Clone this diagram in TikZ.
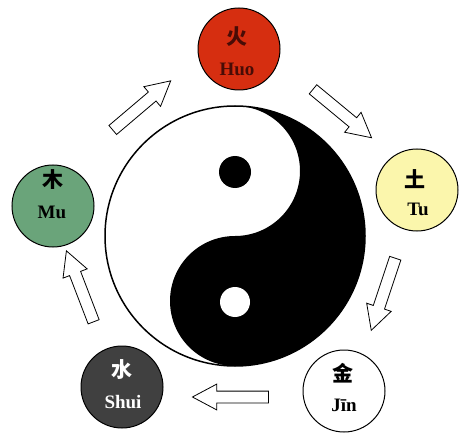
\documentclass[tikz,border=0pt]{standalone}
\usepackage{fontspec}
\setmainfont{Liberation Serif}
\newfontfamily\cjk{Noto Sans CJK SC}
\usetikzlibrary{shapes.arrows}
\definecolor{huored}{RGB}{214,46,16}
\definecolor{huotext}{RGB}{72,12,6}
\definecolor{tuyellow}{RGB}{251,246,172}
\definecolor{shuigray}{RGB}{64,64,64}
\definecolor{mugreen}{RGB}{106,164,122}

\begin{document}
\begin{tikzpicture}[x=1pt,y=-1pt,
  element/.style={circle,draw=black,line width=1pt,minimum size=82pt,inner sep=0pt},
  hanzi/.style={font=\cjk\bfseries\fontsize{21}{21}\selectfont,inner sep=0pt},
  pinyin/.style={font=\bfseries\fontsize{19}{19}\selectfont,inner sep=0pt},
  flow/.style={single arrow,draw=black,fill=white,line width=0.8pt,minimum height=76pt,
    inner sep=5.5pt,single arrow head extend=7pt,single arrow tip angle=56}]
\useasboundingbox (0,0) rectangle (474,441);

\begin{scope}[shift={(235,236)},yscale=-1]
\fill [black] (0,130) arc [start angle=90,end angle=-90,radius=130]
  arc [start angle=-90,end angle=-270,radius=65]
  arc [start angle=-90,end angle=90,radius=65] -- cycle;
\fill [black] (0,64) circle [radius=16];
\fill [white] (0,-66) circle [radius=15];
\draw [black,line width=1.5pt] (0,0) circle [radius=130];
\end{scope}

\node [element,fill=huored] (huo) at (239,49) {};
\node [hanzi,text=huotext] (huozi) at (237,37) {火};
\node [pinyin,text=huotext] (huopy) at (237,69) {Huo};

\node [element,fill=tuyellow] (tu) at (417,190) {};
\node [hanzi] (tuzi) at (415,179) {土};
\node [pinyin] (tupy) at (418,209) {Tu};

\node [element,fill=white] (jin) at (344,391) {};
\node [hanzi] (jinzi) at (343,373) {金};
\node [pinyin] (jinpy) at (344,405) {Jīn};

\node [element,fill=shuigray] (shui) at (122,387) {};
\node [hanzi,text=white] (shuizi) at (122,370) {水};
\node [pinyin,text=white] (shuipy) at (123,402) {Shui};

\node [element,fill=mugreen] (mu) at (53,206) {};
\node [hanzi] (muzi) at (53,180) {木};
\node [pinyin] (mupy) at (52,212) {Mu};

\node [flow,rotate=40.3] (muhuo) at (137.5,109) {};
\node [flow,rotate=-39.6] (huotu) at (338,110) {};
\node [flow,rotate=-108.4] (tujin) at (385,289) {};
\node [flow,rotate=180] (jinshui) at (236,397) {};
\node [flow,rotate=111] (shuimu) at (82,291.5) {};
\end{tikzpicture}
\end{document}
